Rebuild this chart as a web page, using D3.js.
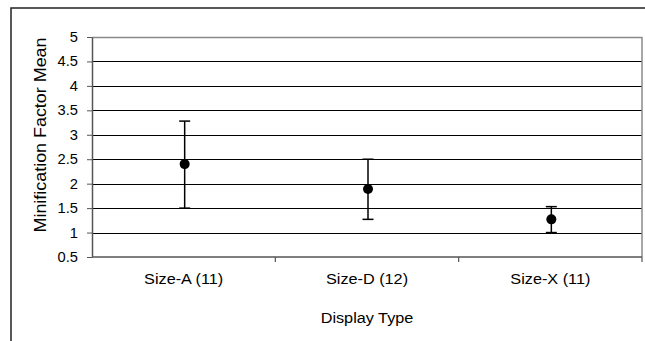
<!DOCTYPE html>
<html>
<head>
<meta charset="utf-8">
<script src="https://cdn.jsdelivr.net/npm/d3@7"></script>
<style>
  html, body { margin: 0; padding: 0; background: #fff; }
  svg { display: block; }
  text { font-family: "Liberation Sans", Arial, sans-serif; fill: #000; }
</style>
</head>
<body>
<svg id="chart" width="645" height="341"></svg>
<script>
// ---- data ----
const categories = ["Size-A (11)", "Size-D (12)", "Size-X (11)"];
const means      = [2.40, 1.89, 1.27];
const upper      = [3.28, 2.50, 1.53];
const lower      = [1.50, 1.27, 1.00];
const yTicks     = [0.5, 1, 1.5, 2, 2.5, 3, 3.5, 4, 4.5, 5];
const yTickLabels = ["0.5", "1", "1.5", "2", "2.5", "3", "3.5", "4", "4.5", "5"];
const xTitle = "Display Type";
const yTitle = "Minification Factor Mean";

// ---- layout ----
const svg = d3.select("#chart");
const plot = { left: 92, right: 642, top: 37, bottom: 257 };
const stretch = 1.16;   // horizontal glyph stretch seen in the reference
const fs = 14;

// outer frame (extends past right/bottom edges)
svg.append("rect")
  .attr("x", 11).attr("y", 8)
  .attr("width", 660).attr("height", 360)
  .attr("fill", "none").attr("stroke", "#222").attr("stroke-width", 1.5);

const x = d3.scaleBand().domain(categories).range([plot.left, plot.right]).padding(0);
const y = d3.scaleLinear().domain([0.5, 5]).range([plot.bottom, plot.top]);

// gridlines
svg.append("g").selectAll("line")
  .data(yTicks.filter(v => v > 0.5 && v < 5))
  .join("line")
  .attr("x1", plot.left).attr("x2", plot.right)
  .attr("y1", d => Math.round(y(d)) + 0.5).attr("y2", d => Math.round(y(d)) + 0.5)
  .attr("stroke", "#000").attr("stroke-width", 1);

// plot border top + right (grey)
svg.append("line")
  .attr("x1", plot.left).attr("x2", plot.right)
  .attr("y1", Math.round(y(5)) + 0.5).attr("y2", Math.round(y(5)) + 0.5)
  .attr("stroke", "#8a8a8a").attr("stroke-width", 1.5);
svg.append("line")
  .attr("x1", plot.right).attr("x2", plot.right)
  .attr("y1", plot.top).attr("y2", plot.bottom)
  .attr("stroke", "#8a8a8a").attr("stroke-width", 1.5);

// y axis (line + ticks via d3.axisLeft, labels drawn with stretch)
const yAxis = d3.axisLeft(y)
  .tickValues(yTicks)
  .tickFormat("")
  .tickSizeInner(5).tickSizeOuter(0);
const gy = svg.append("g").attr("transform", `translate(${plot.left},0)`).call(yAxis);
gy.select(".domain").attr("stroke", "#555").attr("stroke-width", 1.5);
gy.selectAll(".tick line").attr("stroke", "#555");

svg.append("g").selectAll("text")
  .data(yTicks)
  .join("text")
  .attr("transform", d => `translate(${plot.left - 14},${y(d)}) scale(1.05,1)`)
  .attr("text-anchor", "end")
  .attr("dy", "0.36em")
  .style("font-size", fs + "px")
  .text((d, i) => yTickLabels[i]);

// x axis (ticks between categories)
svg.append("line")
  .attr("x1", plot.left).attr("x2", plot.right)
  .attr("y1", plot.bottom).attr("y2", plot.bottom)
  .attr("stroke", "#555").attr("stroke-width", 1.5);
const boundaries = categories.map(c => x(c)).concat([x(categories[categories.length - 1]) + x.bandwidth()]);
svg.append("g").selectAll("line")
  .data(boundaries.slice(1))
  .join("line")
  .attr("x1", d => d).attr("x2", d => d)
  .attr("y1", plot.bottom).attr("y2", plot.bottom + 5)
  .attr("stroke", "#555").attr("stroke-width", 1.2);

svg.append("g").selectAll("text")
  .data(categories)
  .join("text")
  .attr("transform", d => `translate(${x(d) + x.bandwidth() / 2},284) scale(${stretch},1)`)
  .attr("text-anchor", "middle")
  .style("font-size", fs + "px")
  .text(d => d);

// axis titles
svg.append("text")
  .attr("transform", `translate(${(plot.left + plot.right) / 2},323) scale(${stretch},1)`)
  .attr("text-anchor", "middle")
  .style("font-size", fs + "px")
  .text(xTitle);

svg.append("text")
  .attr("transform", `translate(46,135) rotate(-90) scale(1.12,1)`)
  .attr("text-anchor", "middle")
  .style("font-size", "16px")
  .text(yTitle);

// error bars
const cx = d => x(d) + x.bandwidth() / 2 + 1;
const g = svg.append("g");
g.selectAll("line.bar")
  .data(categories)
  .join("line")
  .attr("class", "bar")
  .attr("x1", cx).attr("x2", cx)
  .attr("y1", (d, i) => y(upper[i])).attr("y2", (d, i) => y(lower[i]))
  .attr("stroke", "#000").attr("stroke-width", 1.5);
g.selectAll("line.capTop")
  .data(categories)
  .join("line")
  .attr("class", "capTop")
  .attr("x1", d => cx(d) - 5.5).attr("x2", d => cx(d) + 5.5)
  .attr("y1", (d, i) => y(upper[i])).attr("y2", (d, i) => y(upper[i]))
  .attr("stroke", "#000").attr("stroke-width", 1.5);
g.selectAll("line.capBot")
  .data(categories)
  .join("line")
  .attr("class", "capBot")
  .attr("x1", d => cx(d) - 5.5).attr("x2", d => cx(d) + 5.5)
  .attr("y1", (d, i) => y(lower[i])).attr("y2", (d, i) => y(lower[i]))
  .attr("stroke", "#000").attr("stroke-width", 1.5);
g.selectAll("circle")
  .data(categories)
  .join("circle")
  .attr("cx", cx)
  .attr("cy", (d, i) => y(means[i]))
  .attr("r", 5)
  .attr("fill", "#000");
</script>
</body>
</html>
